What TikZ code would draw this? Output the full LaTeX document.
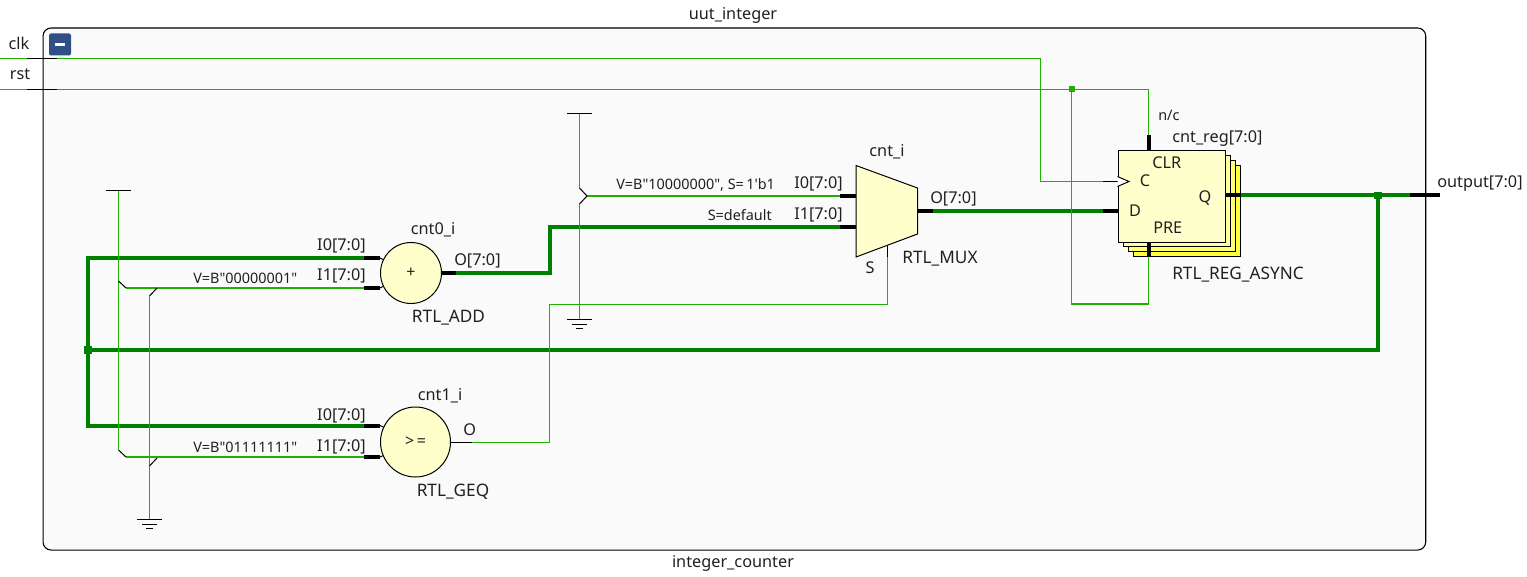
\documentclass[tikz,border=0pt]{standalone}
\usepackage{fontspec}
\setmainfont{Noto Sans}
\newfontfamily\plainsans{Noto Sans}
\definecolor{thinG}{HTML}{1FB000}
\definecolor{thickG}{HTML}{008000}
\definecolor{cellY}{HTML}{FFFFCC}
\definecolor{frameBg}{HTML}{FAFAFA}
\definecolor{txtC}{HTML}{202020}
\definecolor{btnB}{HTML}{2F4F85}
\definecolor{regA}{HTML}{FFFF3C}
\definecolor{regB}{HTML}{FFFF78}
\definecolor{regC}{HTML}{FFFFA0}
\tikzset{
  wire/.style={draw=thinG,line width=.85pt},
  cwire/.style={draw=thinG,line width=1.7pt},
  bus/.style={draw=thickG,line width=3pt},
  stub/.style={draw=black,line width=3pt},
  fine/.style={draw=black,line width=.75pt},
  lab/.style={font=\fontsize{12.2}{12}\selectfont,text=txtC,inner sep=0pt},
  big/.style={font=\fontsize{12.9}{12}\selectfont,text=txtC,inner sep=0pt},
  small/.style={font=\plainsans\fontsize{10.8}{10}\selectfont,text=txtC,inner sep=0pt},
  dotG/.style={fill=thinG,draw=none,minimum size=4.5pt,inner sep=0pt,rectangle},
  dotB/.style={fill=thickG,draw=none,minimum size=5.5pt,inner sep=0pt,rectangle},
  cellc/.style={circle,draw=black,line width=.75pt,fill=cellY,inner sep=0pt,text=txtC,font=\fontsize{12}{12}\selectfont},
  regb/.style={rectangle,draw=black,line width=.75pt,inner sep=0pt,anchor=north west,minimum width=80.6pt,minimum height=68.6pt}
}
\begin{document}
\begin{tikzpicture}[x=.75pt,y=-.75pt]
\useasboundingbox (0,0) rectangle (1527,577);
\node[draw=black,line width=.8pt,fill=frameBg,rounded corners=6pt,minimum width=1037pt,minimum height=391.5pt,inner sep=0pt,anchor=north west] (frame) at (42.5,27.5) {};
% toggle button
\node[fill=btnB,rounded corners=1.5pt,minimum size=16.5pt,inner sep=0pt] (btn) at (60,44.5) {};
\node[fill=white,minimum width=7.5pt,minimum height=2.2pt,inner sep=0pt] (btnm) at (60,44.5) {};
% pin and routing coordinates
\coordinate (clkL) at (0,58.5);
\coordinate (clkA) at (1040.5,58.5);
\coordinate (clkB) at (1040.5,181.5);
\coordinate (clkP) at (1103,181.5);
\coordinate (clkQ) at (1117.5,181.5);
\coordinate (rstL) at (0,89.5);
\coordinate (rstA) at (1148.5,89.5);
\coordinate (rstP) at (1148.5,135);
\coordinate (clrP) at (1148.5,150.5);
\coordinate (preP) at (1148.5,243);
\coordinate (preQ) at (1148.5,257);
\coordinate (preA) at (1148.5,304);
\coordinate (preB) at (1071.5,304);
\coordinate (jR) at (1071.5,89.5);
\coordinate (qS) at (1225,195.5);
\coordinate (qT) at (1240,195.5);
\coordinate (outA) at (1410,195.5);
\coordinate (outB) at (1440,195.5);
\coordinate (jO) at (1378,195.5);
\coordinate (fbA) at (1378,350);
\coordinate (jF) at (88,350);
\coordinate (fbT) at (88,258);
\coordinate (fbB) at (88,425.5);
\coordinate (a0P) at (364,258);
\coordinate (a0Q) at (380,258);
\coordinate (a1P) at (364,288);
\coordinate (a1Q) at (380,288);
\coordinate (g0P) at (364,425.5);
\coordinate (g0Q) at (380,425.5);
\coordinate (g1P) at (364,457);
\coordinate (g1Q) at (380,457);
\coordinate (aoS) at (441.5,273);
\coordinate (aoP) at (456,273);
\coordinate (aoA) at (549.5,273);
\coordinate (aoB) at (549.5,227);
\coordinate (m1P) at (840,227);
\coordinate (m1Q) at (856,227);
\coordinate (m0P) at (840,196);
\coordinate (m0Q) at (856,196);
\coordinate (moS) at (917.5,211);
\coordinate (moP) at (933,211);
\coordinate (dP) at (1103,211);
\coordinate (dQ) at (1117.5,211);
\coordinate (goS) at (450.5,442.5);
\coordinate (goP) at (472,442.5);
\coordinate (goA) at (549.5,442.5);
\coordinate (goB) at (549.5,304.5);
\coordinate (goC) at (887.5,304.5);
\coordinate (sP) at (887.5,257);
\coordinate (sQ) at (887.5,246);
% constant sources and grounds
\coordinate (v1) at (118.5,190.5);
\coordinate (v1a) at (118.5,281);
\coordinate (v1b) at (126,288);
\coordinate (v1c) at (118.5,450);
\coordinate (v1d) at (126,457);
\coordinate (g1) at (149.5,519.5);
\coordinate (g1a) at (149.5,296);
\coordinate (g1b) at (157,288);
\coordinate (g1c) at (149.5,466);
\coordinate (g1d) at (157,458);
\coordinate (v2) at (579.5,113.5);
\coordinate (v2a) at (579.5,188);
\coordinate (v2b) at (587,196);
\coordinate (v2c) at (579.5,204);
\coordinate (g2) at (579.5,319.5);
% thick buses
\draw[bus,line join=miter] (aoP) -- (aoA) -- (aoB) -- (m1P);
\draw[bus] (moP) -- (dP);
\draw[bus] (qT) -- (outA);
\draw[bus,line join=miter] (jO) -- (fbA) -- (jF);
\draw[bus,line join=miter] (a0P) -- (fbT) -- (fbB) -- (g0P);
% thin wires
\draw[wire] (clkL) -- (clkA) -- (clkB) -- (clkP);
\draw[wire] (rstL) -- (rstA) -- (rstP);
\draw[wire] (jR) -- (preB) -- (preA) -- (preQ);
\draw[wire] (goP) -- (goA) -- (goB) -- (goC) -- (sP);
\draw[wire] (v1) -- (v1a);
\draw[wire] (v1a) -- (v1c);
\draw[wire] (g1a) -- (g1);
\draw[wire] (v2) -- (v2a);
\draw[wire] (v2c) -- (g2);
\draw[cwire] (v1b) -- (a1P);
\draw[cwire] (v1d) -- (g1P);
\draw[cwire] (v2b) -- (m0P);
% hop marks and power symbols
\draw[fine] (v1a) -- (v1b);
\draw[fine] (v1c) -- (v1d);
\draw[fine] (g1a) -- (g1b);
\draw[fine] (g1c) -- (g1d);
\draw[fine] (v2a) -- (v2b) -- (v2c);
\draw[fine] ([xshift=-12.5*.75pt]v1) -- ([xshift=12.5*.75pt]v1);
\draw[fine] ([xshift=-12.5*.75pt]v2) -- ([xshift=12.5*.75pt]v2);
\foreach \g in {g1,g2}{
  \draw[fine] ([xshift=-12.5*.75pt]\g) -- ([xshift=12.5*.75pt]\g);
  \draw[fine] ([xshift=-7.5*.75pt,yshift=-4.5*.75pt]\g) -- ([xshift=7.5*.75pt,yshift=-4.5*.75pt]\g);
  \draw[fine] ([xshift=-3.5*.75pt,yshift=-9*.75pt]\g) -- ([xshift=3.5*.75pt,yshift=-9*.75pt]\g);
}
% port stubs
\coordinate (clkS) at (27,58.5);
\coordinate (clkE) at (57,58.5);
\coordinate (rstS) at (27,89.5);
\coordinate (rstE) at (57,89.5);
\draw[fine] (clkS) -- (clkE);
\draw[fine] (rstS) -- (rstE);
\draw[stub] (outA) -- (outB);
% cells
\node[cellc,minimum size=45.75pt] (add) at (411,273) {+};
\node[cellc,minimum size=52.5pt] (geq) at (415.5,442) {>\,=};
\draw[fine] (a0Q) -- (add);
\draw[fine] (a1Q) -- (add);
\draw[fine] (g0Q) -- (geq);
\draw[fine] (g1Q) -- (geq);
\draw[stub] (a0P) -- (a0Q);
\draw[stub] (a1P) -- (a1Q);
\draw[stub] (g0P) -- (g0Q);
\draw[stub] (g1P) -- (g1Q);
\draw[stub] (aoS) -- (aoP);
\draw[fine] (goS) -- (goP);
% mux
\coordinate (mA) at (856,165.5);
\coordinate (mB) at (917.5,188);
\coordinate (mC) at (917.5,234);
\coordinate (mD) at (856,257);
\draw[fine,fill=cellY,line join=miter] (mA) -- (mB) -- (mC) -- (mD) -- cycle;
\draw[stub] (m0P) -- (m0Q);
\draw[stub] (m1P) -- (m1Q);
\draw[stub] (moS) -- (moP);
\draw[fine] (sP) -- (sQ);
% register stack
\node[regb,fill=regA] (r3) at (1132.5,165) {};
\node[regb,fill=regB] (r2) at (1127.5,160) {};
\node[regb,fill=regC] (r1) at (1122.5,155) {};
\node[regb,fill=cellY] (r0) at (1117.5,150.5) {};
\draw[fine] (clkP) -- (clkQ);
\coordinate (cA) at (1117.5,176.5);
\coordinate (cB) at (1129,181.5);
\coordinate (cC) at (1117.5,186.5);
\draw[fine,fill=white] (cA) -- (cB) -- (cC);
\draw[stub] (rstP) -- (clrP);
\draw[stub] (preP) -- (preQ);
\draw[stub] (dP) -- (dQ);
\draw[stub] (qS) -- (qT);
% junctions
\node[dotG] (jn1) at (jR) {};
\node[dotB] (jn2) at (jO) {};
\node[dotB] (jn3) at (jF) {};
% labels
\node[lab,anchor=base] (t1) at (733,19.5) {uut\_integer};
\node[lab,anchor=base] (t2) at (733,567.5) {integer\_counter};
\node[lab,anchor=base] (tclk) at (19,50) {clk};
\node[lab,anchor=base] (trst) at (20,80) {rst};
\node[lab,anchor=base east] (l1) at (366,251) {I0[7:0]};
\node[lab,anchor=base east] (l2) at (366,281) {I1[7:0]};
\node[lab,anchor=base east] (l3) at (366,420) {I0[7:0]};
\node[lab,anchor=base east] (l4) at (366,451) {I1[7:0]};
\node[lab,anchor=base east] (l5) at (843,189) {I0[7:0]};
\node[lab,anchor=base east] (l6) at (843,220) {I1[7:0]};
\node[lab,anchor=base west] (l7) at (454,266) {O[7:0]};
\node[lab,anchor=base west] (l8) at (463,435) {O};
\node[lab,anchor=base west] (l9) at (930,204) {O[7:0]};
\node[lab,anchor=base] (l10) at (433,235) {cnt0\_i};
\node[big,anchor=base] (l11) at (448.5,322) {RTL\_ADD};
\node[lab,anchor=base] (l12) at (440,400) {cnt1\_i};
\node[big,anchor=base] (l13) at (453,496) {RTL\_GEQ};
\node[lab,anchor=base] (l14) at (887,157) {cnt\_i};
\node[big,anchor=base] (l15) at (940,264) {RTL\_MUX};
\node[lab,anchor=base] (l16) at (870,273) {S};
\node[small,anchor=base west] (l17) at (1158,121) {n/c};
\node[lab,anchor=base west] (l18) at (1172,143) {cnt\_reg[7:0]};
\node[lab,anchor=base west] (l19) at (1152,169) {CLR};
\node[lab,anchor=base] (l20) at (1145,187) {C};
\node[lab,anchor=base] (l21) at (1135,217) {D};
\node[lab,anchor=base] (l22) at (1205,203) {Q};
\node[lab,anchor=base west] (l23) at (1153,234) {PRE};
\node[big,anchor=base west] (l24) at (1172,280) {RTL\_REG\_ASYNC};
\node[lab,anchor=base west] (l25) at (1437,188) {output[7:0]};
\node[small,anchor=base west] (s1) at (193,283) {V=B"00000001"};
\node[small,anchor=base west] (s2) at (193,452) {V=B"01111111"};
\node[small,anchor=base west] (s3) at (616,190) {V=B"10000000", S=\,1'b1};
\node[small,anchor=base east] (s4) at (772,221) {S=default};
\end{tikzpicture}
\end{document}
